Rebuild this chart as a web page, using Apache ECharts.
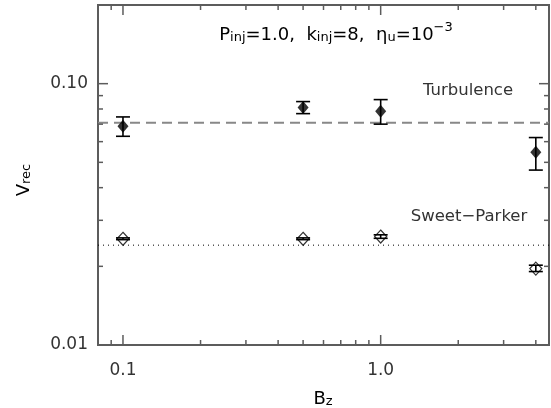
<!DOCTYPE html>
<html>
<head>
<meta charset="utf-8">
<script src="https://cdn.jsdelivr.net/npm/echarts@6/dist/echarts.min.js"></script>
<style>html,body{margin:0;padding:0;background:#fff}#c{width:551px;height:408px}</style>
</head>
<body>
<div id="c"></div>
<script>
// ---- data ----
const xMin = 0.08, xMax = 4.5, yMin = 0.01, yMax = 0.2;
const bz = [0.1, 0.5, 1.0, 4.0];
const turbV = [0.0687, 0.0810, 0.0784, 0.0546];
const turbLow = [0.0629, 0.0768, 0.0700, 0.0467];
const turbHigh = [0.0746, 0.0854, 0.0869, 0.0622];
const spV = [0.0255, 0.0255, 0.0260, 0.0196];
const spLow = [0.0253, 0.0253, 0.0256, 0.0191];
const spHigh = [0.0257, 0.0257, 0.0264, 0.0202];
const turbMean = 0.0708;
const spMean = 0.0241;
const xMajorTicks = [0.1, 1];
const xMajorLabels = ['0.1', '1.0'];
const xMinorTicks = [0.09, 0.2, 0.3, 0.4, 0.5, 0.6, 0.7, 0.8, 0.9, 2, 3, 4];
const yMajorTicks = [0.01, 0.1];
const yMajorLabels = ['0.01', '0.10'];
const yMinorTicks = [0.02, 0.03, 0.04, 0.05, 0.06, 0.07, 0.08, 0.09, 0.2];

const FONT = 'DejaVu Sans';
const TXT = '#333';
const AX = '#5c5c5c';

const chart = echarts.init(document.getElementById('c'), null, {renderer: 'canvas'});

const tickData = [];
xMajorTicks.forEach((v, i) => tickData.push({value: [v, 0], axis: 'x', major: true, label: xMajorLabels[i]}));
xMinorTicks.forEach(v => tickData.push({value: [v, 0], axis: 'x', major: false}));
yMajorTicks.forEach((v, i) => tickData.push({value: [0, v], axis: 'y', major: true, label: yMajorLabels[i]}));
yMinorTicks.forEach(v => tickData.push({value: [0, v], axis: 'y', major: false}));

function renderTick(params, api) {
  const d = tickData[params.dataIndex];
  const cs = params.coordSys;
  const len = d.major ? 10 : 5;
  const style = {stroke: AX, lineWidth: 1.5};
  const children = [];
  if (d.axis === 'x') {
    const x = api.coord([d.value[0], yMin])[0];
    const yb = cs.y + cs.height, yt = cs.y;
    children.push({type: 'line', shape: {x1: x, y1: yb, x2: x, y2: yb - len}, style});
    children.push({type: 'line', shape: {x1: x, y1: yt, x2: x, y2: yt + len}, style});
    if (d.label) children.push({type: 'text', style: {text: d.label, x: x, y: yb + 26, align: 'center', verticalAlign: 'middle', font: '17px "' + FONT + '"', fill: TXT}});
  } else {
    const y = api.coord([xMin, d.value[1]])[1];
    const xl = cs.x, xr = cs.x + cs.width;
    children.push({type: 'line', shape: {x1: xl, y1: y, x2: xl + len, y2: y}, style});
    children.push({type: 'line', shape: {x1: xr, y1: y, x2: xr - len, y2: y}, style});
    if (d.label) children.push({type: 'text', style: {text: d.label, x: xl - 10, y: y, align: 'right', verticalAlign: 'middle', font: '17px "' + FONT + '"', fill: TXT}});
  }
  return {type: 'group', children};
}

function errBar(capHalf) {
  return function (params, api) {
    const x = api.value(0);
    const p1 = api.coord([x, api.value(1)]);
    const p2 = api.coord([x, api.value(2)]);
    const style = {stroke: '#000', lineWidth: 1.6};
    return {type: 'group', children: [
      {type: 'line', shape: {x1: p1[0], y1: p1[1], x2: p2[0], y2: p2[1]}, style},
      {type: 'line', shape: {x1: p1[0] - capHalf, y1: p1[1], x2: p1[0] + capHalf, y2: p1[1]}, style},
      {type: 'line', shape: {x1: p2[0] - capHalf, y1: p2[1], x2: p2[0] + capHalf, y2: p2[1]}, style}
    ]};
  };
}

const rich = {
  n: {fontFamily: FONT, fontSize: 18, color: TXT, verticalAlign: 'bottom', lineHeight: 23},
  s: {fontFamily: FONT, fontSize: 13, color: TXT, verticalAlign: 'bottom', lineHeight: 12},
  p: {fontFamily: FONT, fontSize: 13, color: TXT, verticalAlign: 'top', lineHeight: 12}
};

const option = {
  animation: false,
  backgroundColor: '#fff',
  grid: {left: 98, top: 5, width: 451, height: 340, show: true, borderColor: AX, borderWidth: 2, backgroundColor: 'transparent'},
  xAxis: {type: 'log', logBase: 10, min: xMin, max: xMax, axisLine: {show: false}, axisTick: {show: false}, axisLabel: {show: false}, splitLine: {show: false}, minorTick: {show: false}, minorSplitLine: {show: false}},
  yAxis: {type: 'log', logBase: 10, min: yMin, max: yMax, axisLine: {show: false}, axisTick: {show: false}, axisLabel: {show: false}, splitLine: {show: false}, minorTick: {show: false}, minorSplitLine: {show: false}},
  graphic: [
    {type: 'text', x: 336, y: 33, style: {text: '{n|P}{s|inj}{n|=1.0,  k}{s|inj}{n|=8,  η}{s|u}{n|=10}{p|−3}', rich: rich, align: 'center', verticalAlign: 'middle'}},
    {type: 'text', x: 468, y: 91, style: {text: 'Turbulence', font: '16.5px "' + FONT + '"', fill: TXT, align: 'center', verticalAlign: 'middle'}},
    {type: 'text', x: 469, y: 217, style: {text: 'Sweet−Parker', font: '16.5px "' + FONT + '"', fill: TXT, align: 'center', verticalAlign: 'middle'}},
    {type: 'text', x: 323, y: 397, style: {text: '{n|B}{s|z}', rich: rich, align: 'center', verticalAlign: 'middle'}},
    {type: 'text', x: 22, y: 180, rotation: Math.PI / 2, style: {text: '{n|V}{s|rec}', rich: rich, align: 'center', verticalAlign: 'middle'}}
  ],
  series: [
    {type: 'custom', name: 'ticks', data: tickData.map(d => d.value), renderItem: renderTick, silent: true, z: 5, clip: false},
    {type: 'line', name: 'turbMean', data: [[xMin, turbMean], [xMax, turbMean]], symbol: 'none', lineStyle: {color: '#888', width: 2, type: [10, 6]}, z: 2, silent: true},
    {type: 'line', name: 'spMean', data: [[xMin, spMean], [xMax, spMean]], symbol: 'none', lineStyle: {color: '#000', width: 1, type: [1, 4]}, z: 2, silent: true},
    {type: 'custom', name: 'turbErr', data: bz.map((x, i) => [x, turbLow[i], turbHigh[i]]), renderItem: errBar(7), z: 3, silent: true},
    {type: 'scatter', name: 'Turbulence', data: bz.map((x, i) => [x, turbV[i]]), symbol: 'diamond', symbolSize: [11, 13], itemStyle: {color: '#000'}, z: 4, silent: true},
    {type: 'scatter', name: 'Sweet-Parker', data: bz.map((x, i) => [x, spV[i]]), symbol: 'diamond', symbolSize: [12, 13], itemStyle: {color: '#fff', borderColor: '#000', borderWidth: 1.2}, z: 4, silent: true},
    {type: 'custom', name: 'spErr', data: bz.map((x, i) => [x, spLow[i], spHigh[i]]), renderItem: errBar(7), z: 6, silent: true}
  ]
};
chart.setOption(option);
</script>
</body>
</html>
